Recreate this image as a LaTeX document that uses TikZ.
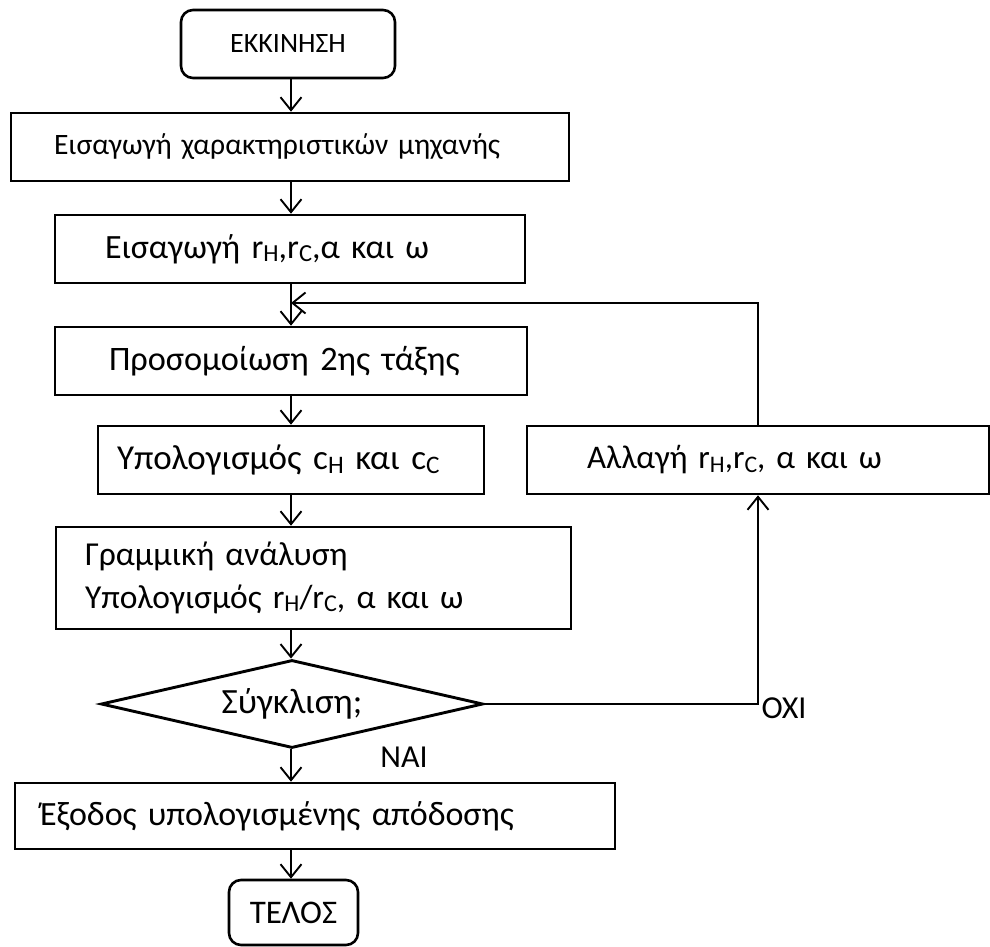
\documentclass[tikz,border=0pt]{standalone}
\usepackage{fontspec}
\setmainfont{Carlito}
\usetikzlibrary{arrows.meta,shapes.geometric}
\newcommand{\idx}[1]{\raisebox{-0.1em}{\scalebox{0.72}{#1}}}

\begin{document}
\begin{tikzpicture}[x=1pt, y=-1pt, >={Straight Barb[length=13pt,width=21pt]},
    proc/.style={draw, line width=2.6pt, minimum height=68pt, align=left},
    term/.style={draw, line width=2.6pt, rounded corners=12pt, inner sep=0pt},
    flow/.style={->, line width=1.9pt},
    lbl/.style={font=\fontsize{32}{36}\selectfont}]
  \useasboundingbox (0,0) rectangle (990,947);
  \coordinate (ax) at (291,0);
  \coordinate (merge) at (291,303);
  % main column
  \node[term, minimum width=214pt, minimum height=68pt, font=\fontsize{28}{32}\selectfont] (start) at (288,44) {ΕΚΚΙΝΗΣΗ};
  \node[proc, text width=472pt, inner xsep=43pt, font=\fontsize{29.6}{34}\selectfont] (mach) at (290,147) {Εισαγωγή χαρακτηριστικών μηχανής};
  \node[proc, text width=370pt, inner xsep=50pt, font=\fontsize{34}{40}\selectfont] (par) at (290,249) {Εισαγωγή r\idx{H},r\idx{C},α και ω};
  \node[proc, text width=364pt, inner xsep=54pt, font=\fontsize{34.3}{40}\selectfont] (sim) at (291,361) {Προσομοίωση 2ης τάξης};
  \node[proc, text width=348pt, inner xsep=19pt, font=\fontsize{35}{40}\selectfont] (calc) at (291,460) {Υπολογισμός c\idx{H} και c\idx{C}};
  \node[proc, minimum height=102pt, text width=457pt, inner xsep=29pt, font=\fontsize{33.5}{43}\selectfont] (lin) at (313.5,578) {Γραμμική ανάλυση\\Υπολογισμός r\idx{H}/r\idx{C}, α και ω};
  \node[draw, diamond, line width=2.9pt, inner sep=0pt, minimum width=382pt, minimum height=88pt, aspect=4.34, font=\fontsize{35.5}{40}\selectfont] (dec) at (292,704) {Σύγκλιση;\hspace{30pt}};
  \node[proc, text width=550pt, inner xsep=25pt, minimum height=66pt, font=\fontsize{34}{38}\selectfont] (out) at (315,816) {Έξοδος υπολογισμένης απόδοσης};
  \node[term, minimum width=129pt, minimum height=65pt, font=\fontsize{33}{40}\selectfont] (stop) at (293.5,912.5) {ΤΕΛΟΣ};
  % side branch
  \node[proc, text width=342pt, inner xsep=60pt, font=\fontsize{33}{40}\selectfont] (change) at (758,460) {Αλλαγή r\idx{H},r\idx{C}, α και ω};
  \node[lbl] (yes) at (404,757) {ΝΑΙ};
  \node[lbl] (no) at (784,708) {ΟΧΙ};
  % connectors
  \draw[flow] (start.south -| ax) -- (mach.north -| ax);
  \draw[flow] (mach.south -| ax) -- (par.north -| ax);
  \draw[flow] (par.south -| ax) -- (sim.north -| ax);
  \draw[flow] (sim.south -| ax) -- (calc.north -| ax);
  \draw[flow] (calc.south -| ax) -- (lin.north -| ax);
  \draw[flow] (lin.south -| ax) -- (dec.north -| ax);
  \draw[flow] (dec.south -| ax) -- (out.north -| ax);
  \draw[flow] (out.south -| ax) -- (stop.north -| ax);
  \draw[flow] (dec.east) -| (change.south);
  \draw[flow] (change.north) |- (merge);
\end{tikzpicture}
\end{document}
